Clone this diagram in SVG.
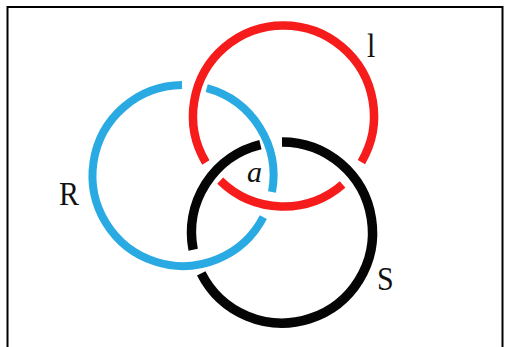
<svg xmlns="http://www.w3.org/2000/svg" width="506" height="347" viewBox="0 0 506 347">
<style>
.ring{fill:none;stroke-linecap:butt}
.red{stroke:#f61c1c;stroke-width:8.5}
.blue{stroke:#2aaae2;stroke-width:8}
.black{stroke:#050505;stroke-width:9.5}
.lbl{font-family:"Liberation Serif","Times New Roman",serif;font-size:30px;fill:#111}
</style>
<rect x="7.5" y="7" width="495" height="360" fill="#fff" stroke="#000" stroke-width="2"/>
<g id="ring-red">
<path class="ring red" d="M205.84 162.47 A90.5 90.5 0 1 1 361.39 162.07"/>
<path class="ring red" d="M342.63 184.51 A90.5 90.5 0 0 1 220.18 180.66"/>
</g>
<g id="ring-blue">
<path class="ring blue" d="M206.73 88.17 A90.5 90.5 0 0 1 271.99 191.99"/>
<path class="ring blue" d="M263.35 217.15 A90.5 90.5 0 1 1 182.05 85.0"/>
</g>
<g id="ring-black">
<path class="ring black" d="M282 142 A90.5 90.5 0 1 1 201.22 273.31"/>
<path class="ring black" d="M193.16 249.77 A90.5 90.5 0 0 1 260.42 144.62"/>
</g>
<g id="labels">
<text class="lbl" transform="translate(59,205) scale(1,1.12)">R</text>
<text class="lbl" transform="translate(367,57) scale(1,1.12)">l</text>
<text class="lbl" transform="translate(377,290) scale(1,1.12)">S</text>
<text class="lbl" font-style="italic" transform="translate(247,182)">a</text>
</g>
</svg>
